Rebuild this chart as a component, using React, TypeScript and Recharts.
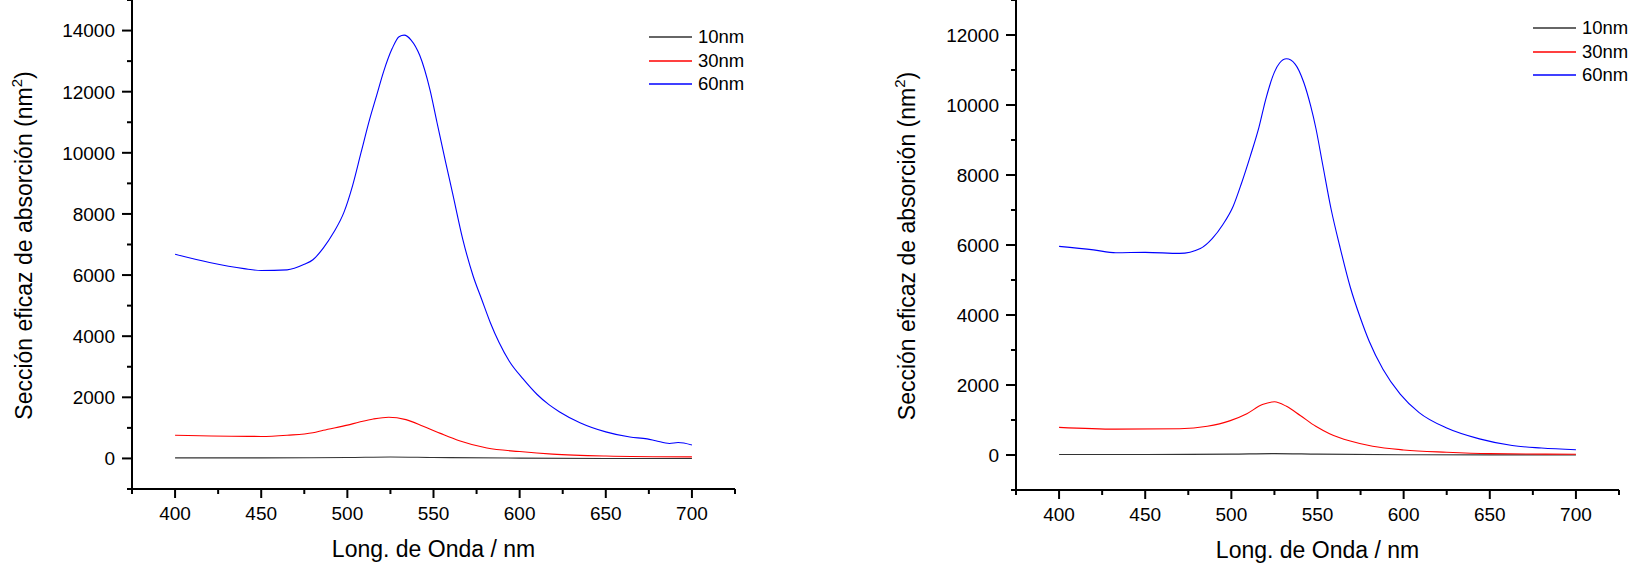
import React from "react";
import { LineChart, Line, XAxis, YAxis, Legend } from "recharts";

const FONT = "'Liberation Sans', Arial, sans-serif";

// ---- left panel ----
const leftBlueX = [400, 420, 440, 450, 465, 475, 480, 486, 492, 498, 503, 508, 513, 517, 521, 526, 530, 533, 537, 542, 548, 552, 557, 561, 567, 573, 578, 583, 588, 594, 602, 610, 617, 623, 635, 650, 664, 674, 679, 687, 692, 700];
const leftBlueY = [6680, 6410, 6210, 6150, 6170, 6350, 6500, 6880, 7390, 8050, 8920, 10020, 11110, 11880, 12650, 13410, 13800, 13850, 13690, 13190, 12050, 11000, 9700, 8700, 7170, 5970, 5200, 4440, 3800, 3180, 2600, 2100, 1760, 1530, 1170, 870, 700, 640, 580, 490, 520, 440];
const leftRedX = [400, 450, 465, 480, 486, 500, 507, 515, 524, 534, 544, 554, 565, 581, 600, 619, 650, 700];
const leftRedY = [760, 720, 760, 840, 920, 1090, 1190, 1290, 1350, 1270, 1055, 820, 580, 340, 225, 140, 80, 50];
const leftBlackX = [400, 450, 500, 525, 550, 600, 650, 700];
const leftBlackY = [20, 20, 30, 45, 30, 10, 0, 0];

// ---- right panel ----
const rightBlueX = [400, 420, 433, 450, 470, 482, 489, 495, 501, 506, 511, 516, 520, 525, 528, 532, 537, 542, 546, 549, 553, 558, 563, 569, 575, 580, 588, 598, 609, 625, 644, 663, 680, 700];
const rightBlueY = [5960, 5860, 5780, 5790, 5760, 5900, 6190, 6580, 7100, 7780, 8540, 9360, 10170, 10940, 11200, 11320, 11170, 10650, 9980, 9350, 8300, 7000, 5950, 4800, 3900, 3250, 2450, 1740, 1210, 770, 460, 270, 200, 150];
const rightRedX = [400, 433, 470, 486, 499, 509, 518, 525, 532, 540, 549, 557, 569, 582, 600, 625, 650, 700];
const rightRedY = [790, 740, 750, 820, 975, 1180, 1440, 1520, 1390, 1130, 820, 610, 400, 250, 145, 80, 40, 20];
const rightBlackX = [400, 450, 500, 525, 550, 600, 650, 700];
const rightBlackY = [15, 15, 25, 40, 25, 8, 3, 2];

const seriesNames = ["10nm", "30nm", "60nm"];
const seriesColors = ["#333333", "#ff0000", "#0000ff"];

const xTicks = [375, 400, 425, 450, 475, 500, 525, 550, 575, 600, 625, 650, 675, 700, 725];
const leftYTicks = [-1000, 0, 1000, 2000, 3000, 4000, 5000, 6000, 7000, 8000, 9000, 10000, 11000, 12000, 13000, 14000, 15000];
const rightYTicks = [-1000, 0, 1000, 2000, 3000, 4000, 5000, 6000, 7000, 8000, 9000, 10000, 11000, 12000, 13000];

const xTitle = "Long. de Onda / nm";
const yTitle = "Sección eficaz de absorción (nm";

const zip = (xs: number[], ys: number[]) => xs.map((x, i) => ({ x, y: ys[i] }));

const XTick = (props: any) => {
  const { x, y, payload } = props;
  const v = payload.value;
  const major = v % 50 === 0;
  return (
    <g>
      <line x1={x} x2={x} y1={y} y2={y + (major ? 9 : 5)} stroke="#000" strokeWidth={2} />
      {major && (
        <text x={x} y={y + 31} textAnchor="middle" fontSize={19} fontFamily={FONT} fill="#000">
          {v}
        </text>
      )}
    </g>
  );
};

const makeYTick = (maxLabel: number) => (props: any) => {
  const { x, y, payload } = props;
  const v = payload.value;
  const major = v % 2000 === 0 && v >= 0 && v <= maxLabel;
  return (
    <g>
      <line x1={x} x2={x - (major ? 10 : 5)} y1={y} y2={y} stroke="#000" strokeWidth={2} />
      {major && (
        <text x={x - 17} y={y} dy="0.36em" textAnchor="end" fontSize={19} fontFamily={FONT} fill="#000">
          {v}
        </text>
      )}
    </g>
  );
};

const YLabel = (props: any) => {
  const vb = props.viewBox || { x: 0, y: 0, width: 0, height: 489 };
  const bx = vb.x + props.bx;
  const cy = vb.y + vb.height / 2 + 1;
  return (
    <text
      x={bx}
      y={cy}
      transform={`rotate(-90 ${bx} ${cy})`}
      textAnchor="middle"
      fontSize={23}
      fontFamily={FONT}
      fill="#000"
    >
      <tspan>{yTitle}</tspan>
      <tspan dy={-10} fontSize={15}>2</tspan>
      <tspan dy={10}>)</tspan>
    </text>
  );
};

const XLabel = (props: any) => {
  const vb = props.viewBox || { x: 0, y: 489, width: 600, height: 0 };
  return (
    <text
      x={vb.x + vb.width / 2}
      y={vb.y + 68}
      textAnchor="middle"
      fontSize={23}
      fontFamily={FONT}
      fill="#000"
    >
      {xTitle}
    </text>
  );
};

const LegendBox = () => (
  <div style={{ fontFamily: FONT, fontSize: 18.5, color: "#000" }}>
    {seriesNames.map((n, i) => (
      <div key={n} style={{ display: "flex", alignItems: "center", height: 23.5 }}>
        <svg width={43} height={4} style={{ marginRight: 6 }}>
          <line x1={0} x2={43} y1={2} y2={2} stroke={seriesColors[i]} strokeWidth={1.3} />
        </svg>
        <span>{n}</span>
      </div>
    ))}
  </div>
);

type PanelProps = {
  left: number;
  width: number;
  axisW: number;
  rightM: number;
  xAxisH: number;
  yDomain: [number, number];
  yTicks: number[];
  maxLabel: number;
  labelX: number;
  legendLeft: number;
  legendTop: number;
  series: { x: number; y: number }[][];
};

const Panel = (p: PanelProps) => (
  <div style={{ position: "absolute", left: p.left, top: 0 }}>
    <LineChart width={p.width} height={567} margin={{ top: 0, right: p.rightM, left: 0, bottom: 0 }}>
      <XAxis
        type="number"
        dataKey="x"
        domain={[375, 725]}
        ticks={xTicks}
        interval={0}
        tickSize={0}
        tickMargin={0}
        height={p.xAxisH}
        axisLine={{ stroke: "#000", strokeWidth: 2 }}
        tickLine={false}
        tick={<XTick />}
        allowDataOverflow
        label={<XLabel />}
      />
      <YAxis
        type="number"
        domain={p.yDomain}
        ticks={p.yTicks}
        interval={0}
        tickSize={0}
        tickMargin={0}
        width={p.axisW}
        axisLine={{ stroke: "#000", strokeWidth: 2 }}
        tickLine={false}
        tick={makeYTick(p.maxLabel)}
        allowDataOverflow
        label={<YLabel bx={p.labelX} />}
      />
      <Legend
        layout="vertical"
        align="center"
        verticalAlign="middle"
        content={<LegendBox />}
        wrapperStyle={{ position: "absolute", left: p.legendLeft, top: p.legendTop, width: 120 }}
      />
      {p.series.map((d, i) => (
        <Line
          key={seriesNames[i]}
          data={d}
          dataKey="y"
          name={seriesNames[i]}
          type="monotone"
          stroke={seriesColors[i]}
          strokeWidth={1.1}
          dot={false}
          activeDot={false}
          isAnimationActive={false}
        />
      ))}
    </LineChart>
  </div>
);

export default function App() {
  return (
    <div style={{ position: "absolute", left: 0, top: 0, width: 1646, height: 567, background: "#fff" }}>
      <Panel
        left={0}
        width={800}
        axisW={132}
        rightM={65}
        xAxisH={78}
        yDomain={[-1000, 15000]}
        yTicks={leftYTicks}
        maxLabel={14000}
        labelX={32}
        legendLeft={649}
        legendTop={25.5}
        series={[zip(leftBlackX, leftBlackY), zip(leftRedX, leftRedY), zip(leftBlueX, leftBlueY)]}
      />
      <Panel
        left={840}
        width={806}
        axisW={176}
        rightM={27}
        xAxisH={77}
        yDomain={[-1000, 13000]}
        yTicks={rightYTicks}
        maxLabel={12000}
        labelX={75}
        legendLeft={693}
        legendTop={16.5}
        series={[zip(rightBlackX, rightBlackY), zip(rightRedX, rightRedY), zip(rightBlueX, rightBlueY)]}
      />
    </div>
  );
}
